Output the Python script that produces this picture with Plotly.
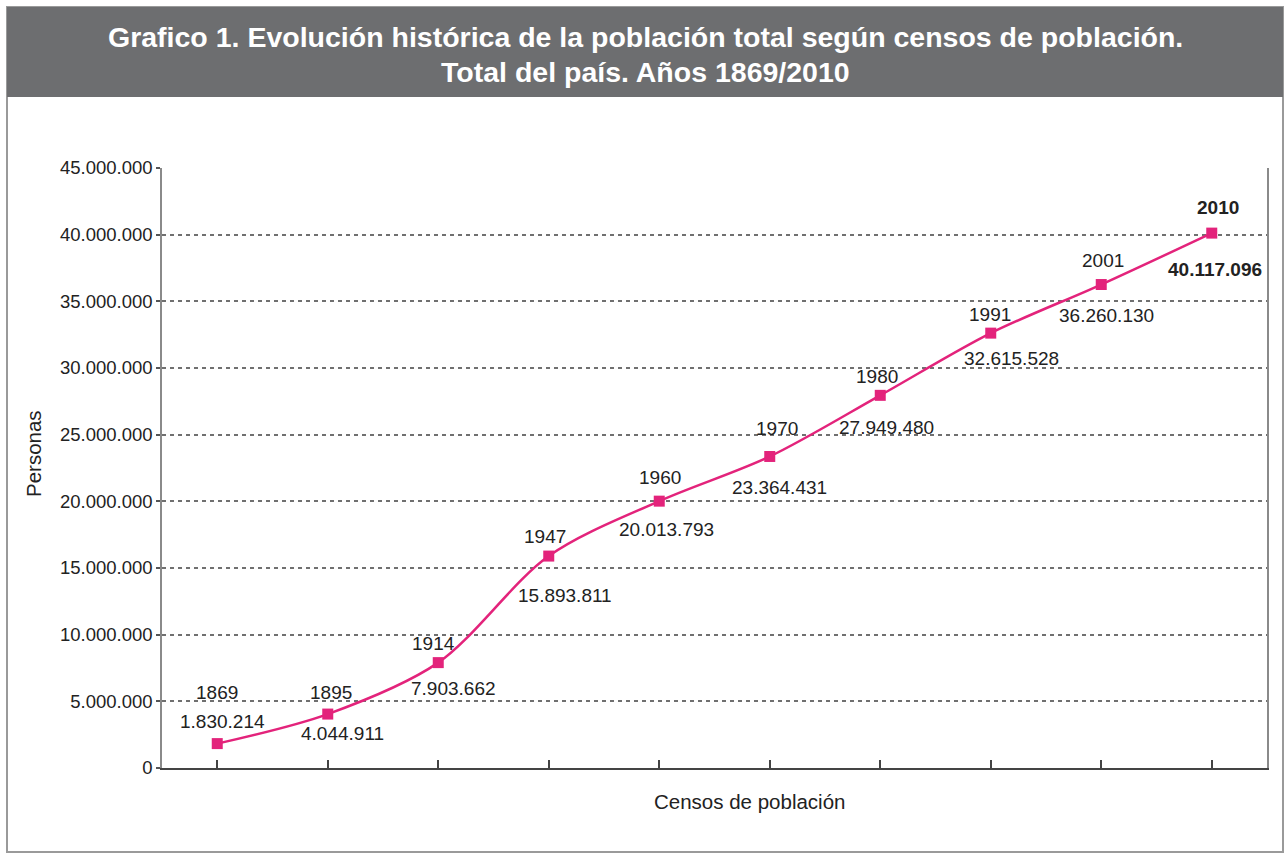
import plotly.graph_objects as go

# Census years and total population
years = ["1869", "1895", "1914", "1947", "1960", "1970", "1980", "1991", "2001", "2010"]
population = [1830214, 4044911, 7903662, 15893811, 20013793, 23364431,
              27949480, 32615528, 36260130, 40117096]
y_ticks = [0, 5000000, 10000000, 15000000, 20000000, 25000000,
           30000000, 35000000, 40000000, 45000000]

# Label offsets (pixels) for the year above and the value below each point
year_shift = [(0, 51), (3, 22), (-5, 19), (-4, 20), (1, 24), (7, 28),
              (-3, 19), (-1, 19), (2, 24), (6, 26)]
value_shift = [(5, 22), (15, -19), (15, -26), (16, -39), (7, -28), (10, -31),
               (6, -32), (21, -25), (5, -31), (3, -36)]

W, H = 1287, 854
L, R, T, B = 162, 1267, 168, 768
FONT = "Liberation Sans, Arial, Helvetica, sans-serif"
PINK = "#e3237b"
LABEL_SIZE = 19


def px(x):
    return (x - L) / (R - L)


def py(y):
    return (B - y) / (B - T)


def fmt(v):
    return f"{v:,}".replace(",", ".")


xs = list(range(len(years)))

fig = go.Figure()
fig.add_trace(go.Scatter(
    x=xs, y=population, mode="lines+markers",
    line=dict(color=PINK, width=2.5, shape="spline", smoothing=0.9),
    marker=dict(symbol="square", size=11, color=PINK),
    hoverinfo="skip", showlegend=False,
))

annotations = []
for i, (yr, v) in enumerate(zip(years, population)):
    bold = i == len(years) - 1
    yt = f"<b>{yr}</b>" if bold else yr
    vt = f"<b>{fmt(v)}</b>" if bold else fmt(v)
    annotations.append(dict(x=i, y=v, xref="x", yref="y", text=yt, showarrow=False,
                            xanchor="center", yanchor="middle",
                            xshift=year_shift[i][0], yshift=year_shift[i][1],
                            font=dict(family=FONT, size=LABEL_SIZE, color="#222")))
    annotations.append(dict(x=i, y=v, xref="x", yref="y", text=vt, showarrow=False,
                            xanchor="center", yanchor="middle",
                            xshift=value_shift[i][0], yshift=value_shift[i][1],
                            font=dict(family=FONT, size=LABEL_SIZE, color="#222")))


def paper_text(x, y, text, size, color, angle=0):
    return dict(x=px(x), y=py(y), xref="paper", yref="paper", text=text,
                showarrow=False, xanchor="center", yanchor="middle", textangle=angle,
                font=dict(family=FONT, size=size, color=color))


# Title lines in the header band
annotations.append(paper_text(645, 37, "<b>Grafico 1. Evolución histórica de la población total según censos de población.</b>", 28.5, "white"))
annotations.append(paper_text(645, 72, "<b>Total del país. Años 1869/2010</b>", 28.5, "white"))
# Axis titles
annotations.append(paper_text(749, 801, "Censos de población", 20.5, "#222"))
annotations.append(paper_text(33, 454, "Personas", 20.5, "#222", angle=-90))

shapes = [
    # outer frame
    dict(type="rect", xref="paper", yref="paper", x0=px(7), x1=px(1283), y0=py(852), y1=py(7),
         line=dict(color="#9a9a9a", width=2), fillcolor="rgba(0,0,0,0)", layer="below"),
    # header band
    dict(type="rect", xref="paper", yref="paper", x0=px(7), x1=px(1283), y0=py(97), y1=py(7),
         line=dict(width=0), fillcolor="#6d6e70", layer="below"),
]

fig.update_layout(
    width=W, height=H,
    margin=dict(l=L, r=W - R, t=T, b=H - B, pad=0),
    paper_bgcolor="white", plot_bgcolor="white",
    separators=",.",
    font=dict(family=FONT, size=18, color="#222"),
    annotations=annotations, shapes=shapes,
    xaxis=dict(range=[-0.5, len(years) - 0.5], tickvals=[-0.5] + xs + [len(years) - 0.5],
               ticktext=[""] * (len(xs) + 2), ticks="inside", ticklen=8, tickwidth=2,
               tickcolor="#444", showgrid=False, zeroline=False,
               showline=True, linecolor="#444", linewidth=2, fixedrange=True),
    yaxis=dict(range=[0, 45000000], tickvals=y_ticks, tickformat=",d",
               ticks="outside", ticklen=4, tickwidth=1.5, tickcolor="#555",
               showgrid=True, gridcolor="#707070", gridwidth=2, griddash="4px,4px",
               zeroline=False, showline=True, linecolor="#8a8a8a", linewidth=1.5,
               mirror=True, tickfont=dict(family=FONT, size=18.5, color="#222"),
               fixedrange=True),
)

fig.write_html("out.html")
